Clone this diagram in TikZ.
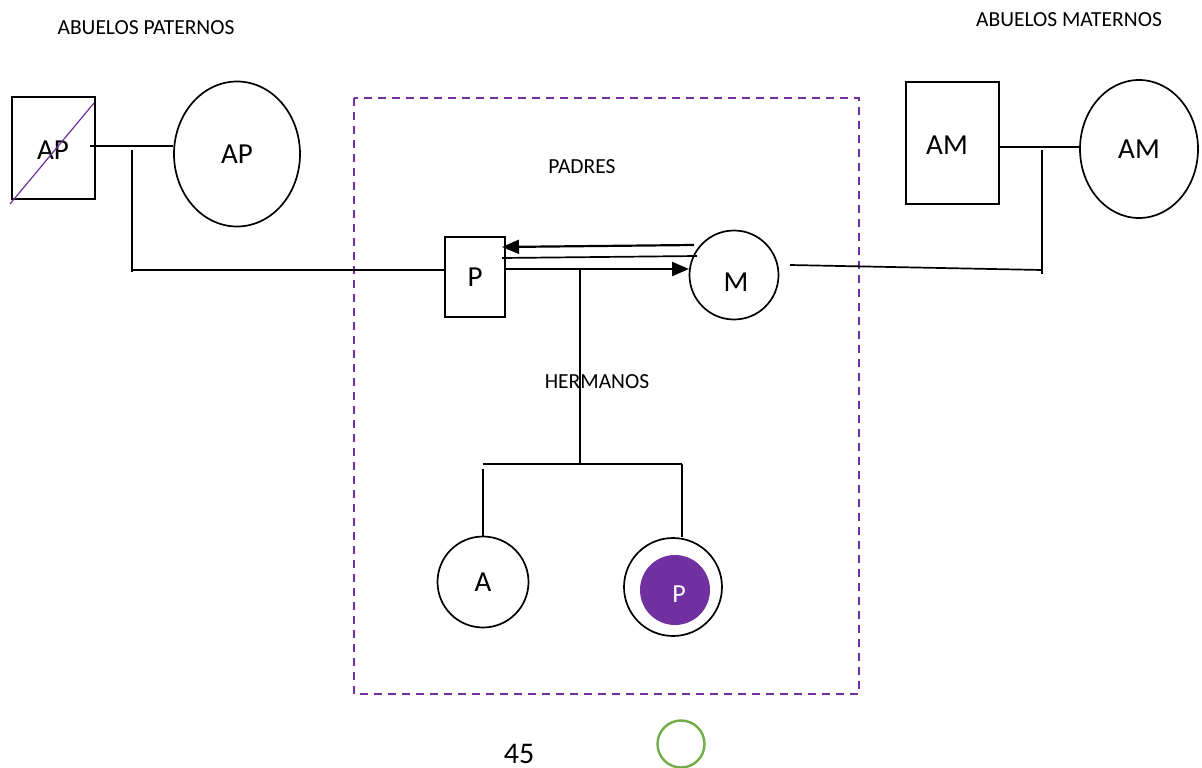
\documentclass[tikz,border=0pt]{standalone}
\usepackage{fontspec}
\setmainfont{Carlito}
\usetikzlibrary{shapes.geometric,arrows.meta}
\definecolor{violeta}{HTML}{7030A0}
\definecolor{verde}{HTML}{70AD47}
\tikzset{
  line/.style={line width=1.7pt, black},
  arr/.style={line width=2.2pt, black, -{Triangle[length=17pt,width=14pt]}},
  male/.style={draw, line width=1.7pt, minimum width=#1, inner sep=0pt},
  female/.style={draw, ellipse, line width=1.7pt, inner sep=0pt},
  lbl/.style={font=\fontsize{21.5}{25}\selectfont},
  sym/.style={font=\fontsize{29}{34}\selectfont},
}
\begin{document}
\begin{tikzpicture}[x=1pt,y=-1pt]
\useasboundingbox (0,0) rectangle (1202,768);

% titles
\node[lbl] (tpat) at (146,28) {ABUELOS PATERNOS};
\node[lbl] (tmat) at (1069,20) {ABUELOS MATERNOS};

% family frame
\draw[violeta, line width=2pt, dash pattern=on 8pt off 6pt] (354,98) rectangle (859,694);
\node[lbl] (padres) at (582,167) {PADRES};
\node[lbl] (hermanos) at (597,382) {HERMANOS};

% paternal grandparents
\node[male, minimum width=83pt, minimum height=102pt] (apm) at (53.5,148) {};
\node[sym] (aptxt) at (53,150) {AP};
\draw[violeta, line width=1.2pt] (10,204) -- (94,103);
\node[female, minimum width=126pt, minimum height=145pt, sym] (apf) at (237,154) {AP};

% maternal grandparents
\node[male, minimum width=93pt, minimum height=122pt] (amm) at (952.5,143) {};
\node[sym] (amtxt) at (947,145) {AM};
\node[female, minimum width=118pt, minimum height=138pt, sym] (amf) at (1139,149) {AM};

% parents
\node[male, minimum width=60pt, minimum height=80pt, sym] (p) at (475,277) {P};
\node[circle, draw, line width=1.7pt, minimum size=89pt, inner sep=0pt] (m) at (734,275) {};
\node[sym] (mtxt) at (736,282) {M};

% siblings
\node[circle, draw, line width=1.7pt, minimum size=91pt, inner sep=0pt, sym] (a) at (483,582) {A};
\node[circle, draw, line width=1.7pt, minimum size=98pt, inner sep=0pt] (pi) at (673,587) {};
\node[circle, fill=violeta, minimum size=70pt, inner sep=0pt] (pin) at (675,590) {};
\node[text=white, font=\fontsize{26}{30}\selectfont] (pintxt) at (679,594) {P};

% page number and marker
\node[font=\fontsize{30}{34}\selectfont, anchor=base] (num) at (519,763) {45};
\node[circle, draw=verde, line width=2.4pt, minimum size=47pt, inner sep=0pt] (gc) at (681,744) {};

% junction points
\coordinate (apl) at (90,146);
\coordinate (apj) at (132,150);
\coordinate (apb) at (132,272);
\coordinate (amj) at (1042,150);
\coordinate (amb) at (1042,274);
\coordinate (mr) at (790,265);
\coordinate (amr) at (1042,270);
\coordinate (pj) at (580,270);
\coordinate (sj) at (580,464);
\coordinate (sl) at (483,464);
\coordinate (sr) at (682,464);
\coordinate (slt) at (483,469);

% marriage lines
\draw[line] (apl) -- (apf.west |- apl);
\draw[line] (amm.east |- 0,147) -- (amf.west |- 0,147);
\draw[line] (apj) -- (apb);
\draw[line] (amj) -- (amb);
\draw[line] (132,270) -- (p.west |- 0,270);
\draw[line] (mr) -- (amr);

% relation between parents
\draw[arr] (694,245) -- (502,247);
\draw[line] (502,258) -- (697,256);
\draw[arr] (505,269) -- (689,269);

% descent
\draw[line] (pj) -- (sj);
\draw[line] (sl) -- (sr);
\draw[line] (slt) -- (a.north);
\draw[line] (sr) -- (pi.north -| sr);
\end{tikzpicture}
\end{document}
